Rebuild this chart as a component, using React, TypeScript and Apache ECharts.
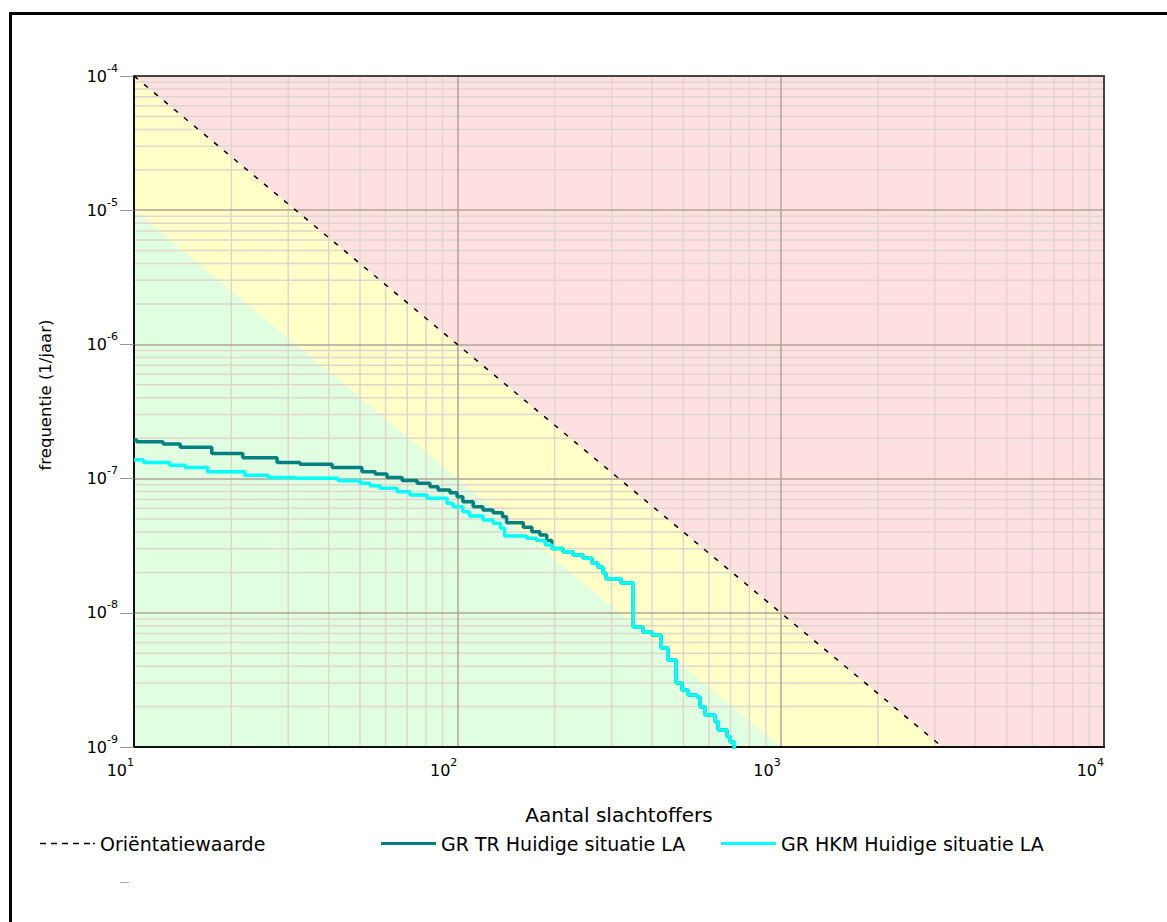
import React, { useEffect, useRef } from "react";
import * as echarts from "echarts";

// ---- data ----
const X_MIN = 10;
const X_MAX = 10000;
const Y_MIN = 1e-9;
const Y_MAX = 1e-4;

// Orientatiewaarde: F = 1e-2 / N^2
const ORIENT_N = [10, 10000];
const ORIENT_F = [1e-4, 1e-10];
// lower boundary of the yellow zone: F = 1e-3 / N^2
const GREEN_N = [10, 10000];
const GREEN_F = [1e-5, 1e-11];

// GR TR Huidige situatie LA (upper part)
const TR_N = [10, 10.2, 12.3, 13.9, 17.4, 21.7, 27.7, 32.6, 41.0, 50.7, 55.7, 60.6, 67.5, 75.1, 82.3, 87.2, 94.9, 99.8, 104, 112, 120, 129, 138, 142, 160, 170, 180, 189];
const TR_F = [1.94e-7, 1.88e-7, 1.81e-7, 1.71e-7, 1.54e-7, 1.43e-7, 1.32e-7, 1.28e-7, 1.21e-7, 1.125e-7, 1.08e-7, 1.02e-7, 9.7e-8, 9.23e-8, 8.7e-8, 8.22e-8, 7.85e-8, 7.33e-8, 6.73e-8, 6.17e-8, 5.83e-8, 5.57e-8, 5.2e-8, 4.69e-8, 4.34e-8, 4.02e-8, 3.8e-8, 3.45e-8];

// GR HKM Huidige situatie LA (upper part)
const HKM_N = [10, 10.7, 12.9, 14.4, 16.9, 22.0, 26.0, 31.5, 42.8, 50.0, 53.7, 57.7, 65.1, 71.4, 80.6, 92.9, 97.0, 104, 109, 120, 129, 136, 140, 164, 176, 187];
const HKM_F = [1.38e-7, 1.32e-7, 1.26e-7, 1.21e-7, 1.125e-7, 1.06e-7, 1.02e-7, 1.005e-7, 9.65e-8, 9.23e-8, 8.86e-8, 8.47e-8, 7.99e-8, 7.55e-8, 7.13e-8, 6.54e-8, 6.17e-8, 5.67e-8, 5.26e-8, 4.91e-8, 4.64e-8, 4.26e-8, 3.73e-8, 3.59e-8, 3.45e-8, 3.2e-8];

// common tail where both curves coincide
const TAIL_N = [196, 212, 228, 245, 261, 272, 282, 288, 321, 350, 375, 400, 427, 448, 475, 495, 517, 551, 563, 584, 627, 641, 683, 698, 718];
const TAIL_F = [3.02e-8, 2.85e-8, 2.7e-8, 2.55e-8, 2.34e-8, 2.19e-8, 1.98e-8, 1.79e-8, 1.67e-8, 7.84e-9, 7.19e-9, 6.83e-9, 5.47e-9, 4.45e-9, 3.0e-9, 2.66e-9, 2.44e-9, 2.36e-9, 1.99e-9, 1.73e-9, 1.54e-9, 1.34e-9, 1.19e-9, 1.09e-9, 9.5e-10];

const X_DECADES = [1, 2, 3];
const Y_DECADES = [-9, -8, -7, -6, -5];
const MINOR_STEPS = [2, 3, 4, 5, 6, 7, 8, 9];

const LEGEND_NAMES = ["Oriëntatiewaarde", "GR TR Huidige situatie LA", "GR HKM Huidige situatie LA"];
const X_TITLE = "Aantal slachtoffers";
const Y_TITLE = "frequentie (1/jaar)";

// ---- styles ----
const FONT = '"DejaVu Sans", sans-serif';
const PINK = "#ffe0e0";
const YELLOW = "#ffffc8";
const GREEN = "#e0ffe0";
const MAJOR = "#b3a596";
const MINOR = "#e0d6ce";
const TEAL = "#008080";
const CYAN = "#00ffff";
const DASH_ICON =
  "path://M0,0h6v1.5h-6z M11,0h6v1.5h-6z M22,0h6v1.5h-6z M33,0h6v1.5h-6z M44,0h6v1.5h-6z M53,0h2v1.5h-2z";

const pairs = (xs: number[], ys: number[]) => xs.map((x, i) => [x, ys[i]]);

const expLabel = (v: number) => {
  const e = Math.round(Math.log10(v));
  return "{b|10}{e|" + e + "}";
};
const rich = {
  b: { fontSize: 16, fontFamily: FONT, color: "#000" },
  e: { fontSize: 11, fontFamily: FONT, color: "#000", padding: [0, 0, 16, 0] },
};

const gridLine = (data: number[][]) => ({
  type: "line",
  z: 2,
  data,
  symbol: "none",
  silent: true,
  lineStyle: { color: MINOR, width: 1.5 },
});

const legendBase = {
  padding: 0,
  itemWidth: 55,
  itemHeight: 3,
  textStyle: { fontFamily: FONT, fontSize: 19, color: "#000" },
};

export default function App() {
  const ref = useRef<HTMLDivElement>(null);
  useEffect(() => {
    const chart = echarts.init(ref.current!, null, { renderer: "svg" });
    const gridSeries: any[] = [];
    X_DECADES.forEach((d) =>
      MINOR_STEPS.forEach((k) => {
        const v = k * Math.pow(10, d);
        gridSeries.push(gridLine([[v, Y_MIN], [v, Y_MAX]]));
      })
    );
    Y_DECADES.forEach((d) =>
      MINOR_STEPS.forEach((k) => {
        const v = k * Math.pow(10, d);
        gridSeries.push(gridLine([[X_MIN, v], [X_MAX, v]]));
      })
    );

    const option: any = {
      animation: false,
      grid: {
        left: 134,
        top: 76,
        right: 63,
        bottom: 175,
        show: true,
        backgroundColor: PINK,
        borderWidth: 0,
      },
      xAxis: [
        {
          type: "log",
          logBase: 10,
          min: X_MIN,
          max: X_MAX,
          z: 3,
          axisLine: { show: true, onZero: false, lineStyle: { color: "#111", width: 2 } },
          axisTick: { show: false },
          splitLine: { show: true, lineStyle: { color: MAJOR, width: 1.5 } },
          axisLabel: { margin: 10, align: "right", formatter: expLabel, rich },
          name: X_TITLE,
          nameLocation: "middle",
          nameGap: 58,
          nameTextStyle: { fontFamily: FONT, fontSize: 20, color: "#000" },
        },
        {
          type: "log",
          logBase: 10,
          min: X_MIN,
          max: X_MAX,
          position: "top",
          z: 3,
          axisLine: { show: true, onZero: false, lineStyle: { color: "#444", width: 2 } },
          axisTick: { show: false },
          splitLine: { show: false },
          axisLabel: { show: false },
        },
      ],
      yAxis: [
        {
          type: "log",
          logBase: 10,
          min: Y_MIN,
          max: Y_MAX,
          z: 3,
          axisLine: { show: true, onZero: false, lineStyle: { color: "#111", width: 2 } },
          axisTick: { show: true, length: 14, lineStyle: { color: "#999", width: 1 } },
          splitLine: { show: true, lineStyle: { color: MAJOR, width: 1.5 } },
          axisLabel: { margin: 16, formatter: expLabel, rich },
        },
        {
          type: "log",
          logBase: 10,
          min: Y_MIN,
          max: Y_MAX,
          position: "right",
          z: 3,
          axisLine: { show: true, onZero: false, lineStyle: { color: "#444", width: 2 } },
          axisTick: { show: false },
          splitLine: { show: false },
          axisLabel: { show: false },
        },
      ],
      legend: [
        {
          ...legendBase,
          data: [{ name: LEGEND_NAMES[0], icon: DASH_ICON }],
          itemHeight: 1.5,
          left: 40,
          top: 834,
        },
        {
          ...legendBase,
          data: [{ name: LEGEND_NAMES[1], icon: "rect" }],
          left: 381,
          top: 834,
        },
        {
          ...legendBase,
          data: [{ name: LEGEND_NAMES[2], icon: "rect" }],
          left: 721,
          top: 834,
        },
      ],
      graphic: [
        {
          type: "rect",
          z: 10,
          shape: { x: 10.5, y: 13.5, width: 1400, height: 1200 },
          style: { fill: "none", stroke: "#000", lineWidth: 3 },
        },
        {
          type: "line",
          z: 10,
          shape: { x1: 120, y1: 882.5, x2: 129, y2: 882.5 },
          style: { stroke: "#aaa", lineWidth: 1 },
        },
        {
          type: "text",
          z: 10,
          x: 45,
          y: 395,
          rotation: Math.PI / 2,
          style: {
            text: Y_TITLE,
            fontFamily: FONT,
            fontSize: 16.5,
            fill: "#000",
            textAlign: "center",
            textVerticalAlign: "middle",
          },
        },
      ],
      series: [
        {
          name: "yellowZone",
          type: "line",
          z: 1,
          data: pairs(ORIENT_N, ORIENT_F),
          symbol: "none",
          lineStyle: { width: 0, opacity: 0 },
          areaStyle: { color: YELLOW, opacity: 1, origin: "start" },
          silent: true,
        },
        {
          name: "greenZone",
          type: "line",
          z: 1,
          data: pairs(GREEN_N, GREEN_F),
          symbol: "none",
          lineStyle: { width: 0, opacity: 0 },
          areaStyle: { color: GREEN, opacity: 1, origin: "start" },
          silent: true,
        },
        ...gridSeries,
        {
          name: LEGEND_NAMES[0],
          type: "line",
          z: 4,
          data: pairs(ORIENT_N, ORIENT_F),
          symbol: "none",
          color: "#000",
          lineStyle: { color: "#000", width: 1.5, type: [5, 8] },
        },
        {
          name: LEGEND_NAMES[1],
          type: "line",
          z: 5,
          step: "end",
          data: pairs(TR_N.concat(TAIL_N), TR_F.concat(TAIL_F)),
          symbol: "none",
          color: TEAL,
          lineStyle: { color: TEAL, width: 3.5 },
        },
        {
          name: LEGEND_NAMES[2],
          type: "line",
          z: 6,
          step: "end",
          data: pairs(HKM_N.concat(TAIL_N), HKM_F.concat(TAIL_F)),
          symbol: "none",
          color: CYAN,
          lineStyle: { color: CYAN, width: 3.5 },
        },
      ],
    };
    chart.setOption(option);
    return () => chart.dispose();
  }, []);
  return (
    <div
      ref={ref}
      style={{ position: "fixed", left: 0, top: 0, width: 1167, height: 922, background: "#fff" }}
    />
  );
}
